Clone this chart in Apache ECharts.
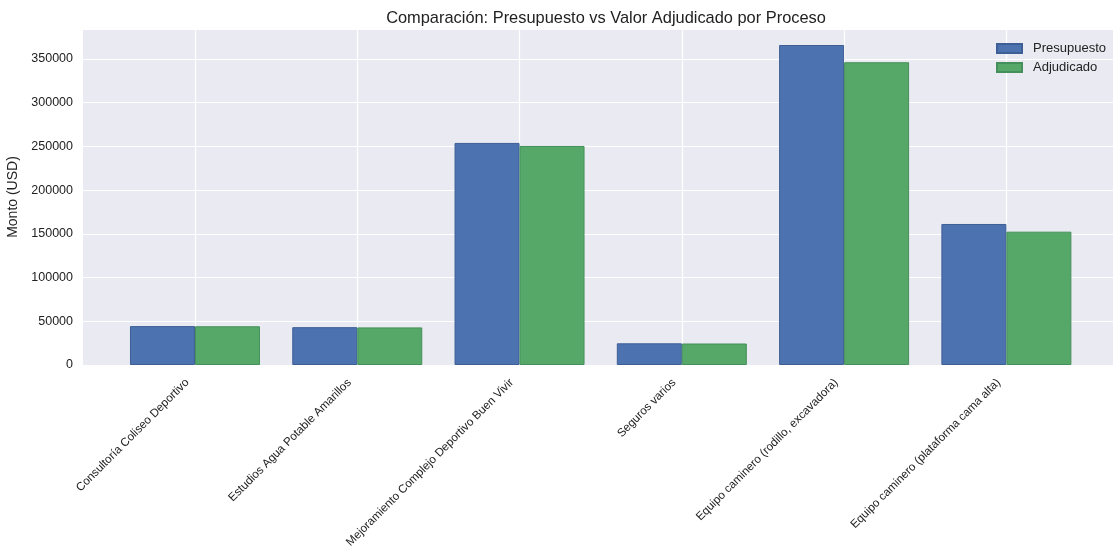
<!DOCTYPE html>
<html>
<head>
<meta charset="utf-8">
<script src="https://cdn.jsdelivr.net/npm/echarts@6/dist/echarts.min.js"></script>
<style>
  html, body { margin: 0; padding: 0; background: #fff; }
  #chart { width: 1113px; height: 547px; }
</style>
</head>
<body>
<div id="chart"></div>
<script>
  // datos
  var procesos = [
    'Consultoría Coliseo Deportivo',
    'Estudios Agua Potable Amarillos',
    'Mejoramiento Complejo Deportivo Buen Vivir',
    'Seguros varios',
    'Equipo caminero (rodillo, excavadora)',
    'Equipo caminero (plataforma cama alta)'
  ]
  var presupuesto = [44500, 43300, 254000, 24800, 366000, 161300]
  var adjudicado = [44300, 43000, 250500, 24600, 346300, 152500]
  var posiciones = [0, 1, 2, 3, 4, 5]

  var fuente = 'Liberation Sans, Arial, sans-serif'

  var myChart = echarts.init(document.getElementById('chart'))
  var option = {
    animation: false,
    title: {
      text: 'Comparación: Presupuesto vs Valor Adjudicado por Proceso',
      left: 601,
      textAlign: 'center',
      top: 5,
      textStyle: { fontFamily: fuente, fontSize: 16.4, fontWeight: 'normal', color: '#222' }
    },
    legend: {
      orient: 'vertical',
      left: 996,
      top: 42,
      padding: 0,
      icon: 'rect',
      itemWidth: 25,
      itemHeight: 9,
      itemGap: 6,
      textStyle: { fontFamily: fuente, fontSize: 13, color: '#222', padding: [0, 0, 0, 6] },
      data: ['Presupuesto', 'Adjudicado']
    },
    grid: {
      left: 83,
      right: 0,
      top: 29,
      bottom: 182,
      outerBoundsMode: 'none',
      show: true,
      backgroundColor: '#EAEAF2',
      borderWidth: 0
    },
    xAxis: {
      type: 'value',
      min: -0.69,
      max: 5.657,
      axisLine: { show: false },
      axisTick: { show: false, customValues: posiciones },
      splitLine: { show: true, lineStyle: { color: '#fff', width: 1.2 } },
      axisLabel: {
        customValues: posiciones,
        rotate: 45,
        margin: 8,
        padding: [0, 11, 0, 0],
        fontFamily: fuente,
        fontSize: 11.6,
        color: '#222',
        formatter: function (v) { return procesos[Math.round(v)] }
      }
    },
    yAxis: {
      type: 'value',
      min: 0,
      max: 384300,
      interval: 50000,
      name: 'Monto (USD)',
      nameLocation: 'middle',
      nameGap: 56,
      nameTextStyle: { fontFamily: fuente, fontSize: 14, color: '#222' },
      axisLine: { show: false },
      axisTick: { show: false },
      splitLine: { lineStyle: { color: '#fff', width: 1.2 } },
      axisLabel: {
        margin: 10,
        showMaxLabel: false,
        fontFamily: fuente,
        fontSize: 12.5,
        color: '#222',
        formatter: function (v) { return String(v) }
      }
    },
    series: [
      {
        name: 'Presupuesto',
        type: 'bar',
        barWidth: 65,
        barGap: '0%',
        itemStyle: { color: '#4C72B0', borderColor: '#3E5F96', borderWidth: 1 },
        data: posiciones.map(function (x, i) { return [x, presupuesto[i]] })
      },
      {
        name: 'Adjudicado',
        type: 'bar',
        barWidth: 65,
        barGap: '0%',
        itemStyle: { color: '#55A868', borderColor: '#45905A', borderWidth: 1 },
        data: posiciones.map(function (x, i) { return [x, adjudicado[i]] })
      }
    ]
  }
  myChart.setOption(option)
</script>
</body>
</html>
